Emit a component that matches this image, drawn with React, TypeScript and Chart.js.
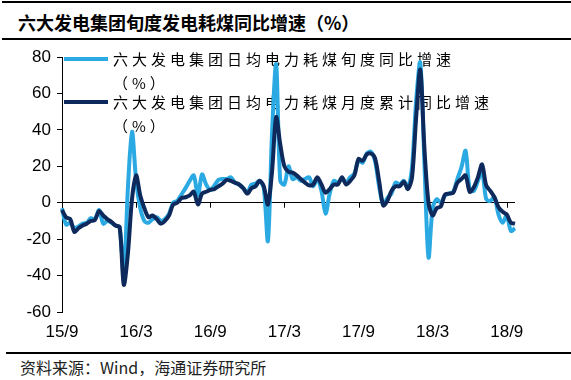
import { useEffect, useRef } from 'react';
import { Chart, registerables } from 'chart.js';

Chart.register(...registerables);

const startYear = 2015;
const startMonth = 9;
const monthCount = 37;
const tenDays = ['上旬', '中旬', '下旬'];

const tickLabels = ['15/9', '16/3', '16/9', '17/3', '17/9', '18/3', '18/9'];
const tickEvery = 18;

const legendLabels = [
  ['六大发电集团日均电力耗煤旬度同比增速', '（%）'],
  ['六大发电集团日均电力耗煤月度累计同比增速', '（%）'],
];

const tenDayYoY = [
  -3, -12, -11, -14, -13, -11.5, -11, -8.5, -9, -4,
  -11.5, -10, -11, -12.5, -13.5, -40, 8, 39, 12, -3,
  -10, -11, -9, -8, -10, -9, -6, 0, 1, 4.5,
  8, 12, 15, 4, 15.5, 10, 7, 9.5, 12.5, 13,
  13, 14, 11, 10, 8, 5.5, 10, 10.5, 12, 8,
  -21, 38, 76, 12, 10, 20, 13, 14, 12, 13,
  14, 9, 13, 6.5, -6, 5, 12, 11, 13, 11,
  14, 16, 23, 22, 27, 28, 23, 9, -1, 2.5,
  5, 11, 10, 12, 8.5, 19.5, 56, 77, 22, -30,
  -3, 2, 0, 4, 5, 6, 13, 19.5, 28.5, 7,
  6.5, 12, 17.5, 2, 1, 3, -6.5, -11, -7, -15.5,
  -14,
];

const monthCumYoY = [
  -4, -8, -9, -16, -14, -12.5, -11.5, -10, -9.5, -4.5,
  -7, -9, -10.5, -12.5, -13.5, -45, -28, 2, 15, 4,
  -3, -8, -7, -9, -11.5, -10, -7, -1, 0, 2.5,
  3, 4, 6, -1, 5, 6, 7, 7.5, 9, 10.5,
  12.5, 12, 11, 10, 8, 5, 8, 9, 12, 9,
  -1, 17, 47, 32, 20, 17, 16.5, 15, 13, 11,
  9.5, 10, 14, 10, 5.5, 7.5, 10, 10, 14, 10,
  12, 15, 24, 23, 26.5, 27, 24.5, 12, -1.5, 1,
  6.5, 9, 9, 11.5, 7.5, 14, 47, 73, 30, 0,
  -7, -3, -2, 4.5, 5, 5.5, 11, 13, 15, 6,
  8.5, 14, 21, 9.5, 6.5, 3, -2.5, -5, -6.5, -11,
  -11.5,
];

const categories: string[] = [];
for (let m = 0; m < monthCount; m++) {
  const total = startMonth - 1 + m;
  const y = startYear + Math.floor(total / 12);
  const mo = (total % 12) + 1;
  for (const t of tenDays) categories.push(`${y}-${mo}${t}`);
}

const LIGHT = '#2aa9e2';
const DARK = '#0e2a5c';

export default function App() {
  const ref = useRef<HTMLCanvasElement | null>(null);

  useEffect(() => {
    if (!ref.current) return;
    const colors = [LIGHT, DARK];

    const legendPlugin = {
      id: 'inlineLegend',
      beforeDatasetsDraw(chart: any) {
        const { ctx, chartArea } = chart;
        const offsets = [2, 45];
        ctx.save();
        ctx.font = '15px "Noto Sans CJK SC"';
        ctx.textBaseline = 'middle';
        ctx.fillStyle = '#000';
        legendLabels.forEach((lines, k) => {
          const y = chartArea.top + offsets[k];
          ctx.strokeStyle = colors[k];
          ctx.lineWidth = 4;
          ctx.beginPath();
          ctx.moveTo(chartArea.left + 2, y);
          ctx.lineTo(chartArea.left + 46, y);
          ctx.stroke();
          lines.forEach((line, li) => {
            let x = chartArea.left + 51;
            for (const ch of line) {
              ctx.fillText(ch, x, y + li * 24);
              x += ctx.measureText(ch).width + 4;
            }
          });
        });
        const xs = chart.scales.x;
        const ys = chart.scales.y;
        const y0 = ys.getPixelForValue(0);
        ctx.strokeStyle = '#000';
        ctx.lineWidth = 1;
        for (let i = tickEvery; i < categories.length; i += tickEvery) {
          const x = Math.round(xs.getPixelForValue(i)) + 0.5;
          ctx.beginPath();
          ctx.moveTo(x, y0);
          ctx.lineTo(x, y0 + 5);
          ctx.stroke();
        }
        ctx.restore();
      },
    };

    const chart = new Chart(ref.current, {
      type: 'line',
      data: {
        labels: categories,
        datasets: [
          {
            label: legendLabels[0][0],
            data: tenDayYoY,
            borderColor: LIGHT,
            borderWidth: 4,
            tension: 0.3,
            pointRadius: 0,
            order: 1,
          },
          {
            label: legendLabels[1][0],
            data: monthCumYoY,
            borderColor: DARK,
            borderWidth: 4,
            tension: 0.3,
            pointRadius: 0,
            order: 0,
          },
        ],
      },
      options: {
        animation: false,
        responsive: false,
        maintainAspectRatio: false,
        layout: { padding: { top: 17, right: 56, left: 0, bottom: 8 } },
        plugins: { legend: { display: false }, tooltip: { enabled: false } },
        scales: {
          x: {
            type: 'category',
            grid: { display: false, drawTicks: false },
            border: { display: false },
            ticks: {
              autoSkip: false,
              maxRotation: 0,
              minRotation: 0,
              padding: 10,
              color: '#000',
              font: { family: '"Liberation Sans", Arial', size: 17 },
              callback: (_v: any, i: number) => (i % tickEvery === 0 ? tickLabels[i / tickEvery] : ''),
            },
            afterFit: (s: any) => {
              s.height = 30;
            },
          },
          y: {
            min: -60,
            max: 80,
            ticks: {
              stepSize: 20,
              color: '#000',
              padding: 6,
              font: { family: '"Liberation Sans", Arial', size: 17 },
            },
            grid: {
              color: (c: any) => (c.tick && c.tick.value === 0 ? '#000' : 'rgba(0,0,0,0)'),
              tickColor: '#000',
              tickLength: 5,
              lineWidth: 1,
            },
            border: { color: '#000', width: 1 },
            afterFit: (s: any) => {
              s.width = 62;
            },
          },
        },
      },
      plugins: [legendPlugin],
    });
    return () => chart.destroy();
  }, []);

  return (
    <div style={{ position: 'fixed', left: 0, top: 0, width: 571, height: 380, background: '#fff', overflow: 'hidden' }}>
      <div style={{ position: 'absolute', left: 2, top: 1, width: 569, height: 2, background: '#000' }} />
      <div
        style={{
          position: 'absolute',
          left: 18,
          top: 10,
          fontFamily: '"Noto Sans CJK SC"',
          fontWeight: 'bold',
          fontSize: 18,
          lineHeight: '24px',
          color: '#000',
          whiteSpace: 'nowrap',
        }}
      >
        六大发电集团旬度发电耗煤同比增速（%）
      </div>
      <div style={{ position: 'absolute', left: 2, top: 38, width: 569, height: 2, background: '#000' }} />
      <canvas ref={ref} width={571} height={310} style={{ position: 'absolute', left: 0, top: 40, width: 571, height: 310 }} />
      <div style={{ position: 'absolute', left: 6, top: 352, width: 565, height: 2, background: '#000' }} />
      <div
        style={{
          position: 'absolute',
          left: 20,
          top: 357,
          fontFamily: '"Noto Sans CJK SC"',
          fontSize: 16,
          lineHeight: '20px',
          color: '#222',
          whiteSpace: 'nowrap',
        }}
      >
        资料来源：Wind，海通证券研究所
      </div>
    </div>
  );
}
